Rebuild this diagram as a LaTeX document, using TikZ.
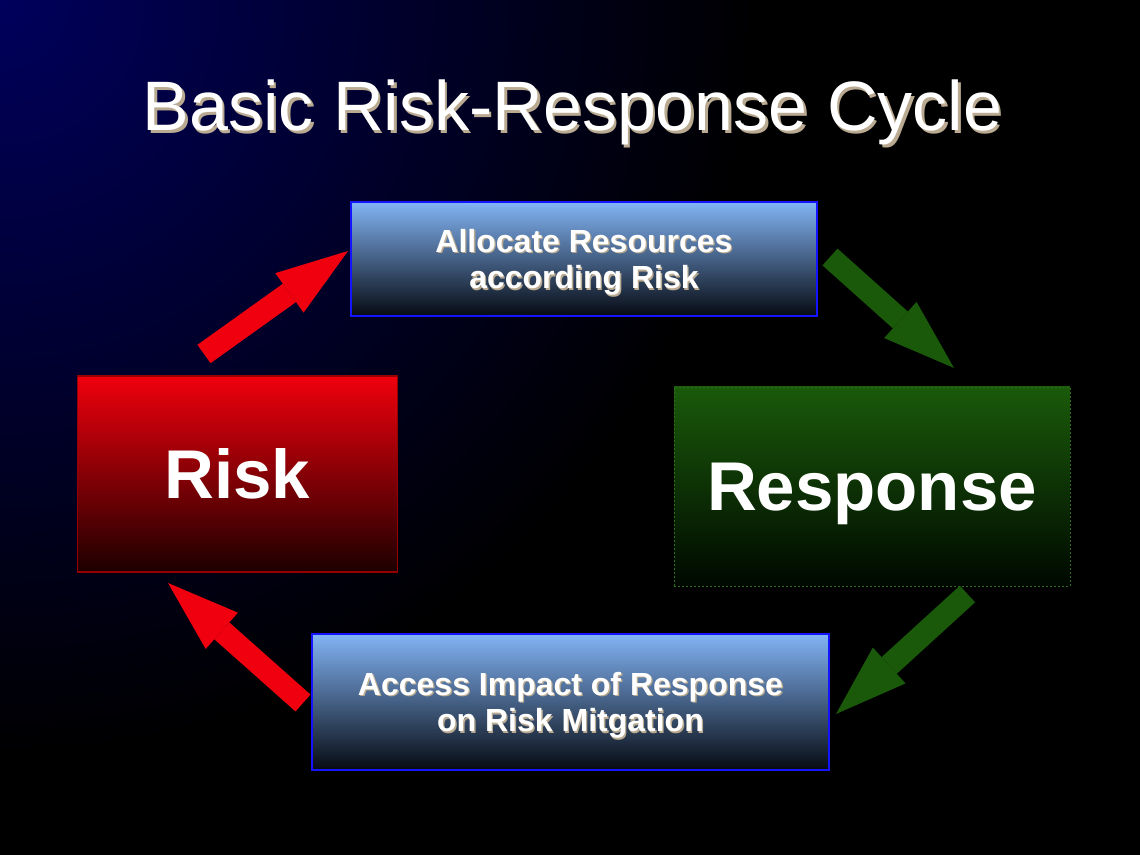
\documentclass[tikz,border=0pt]{standalone}
\usepackage{fontspec}
\setmainfont{Liberation Sans}
\usetikzlibrary{arrows.meta}
\definecolor{bgnavy}{RGB}{0,0,92}
\definecolor{boxblue}{RGB}{130,180,245}
\definecolor{boxmid}{RGB}{72,106,160}
\definecolor{boxdark}{RGB}{6,10,18}
\definecolor{boxedge}{RGB}{20,20,255}
\definecolor{riskred}{RGB}{240,0,12}
\definecolor{riskmid}{RGB}{138,0,4}
\definecolor{riskdark}{RGB}{28,0,0}
\definecolor{riskedge}{RGB}{150,0,0}
\definecolor{respgreen}{RGB}{26,90,10}
\definecolor{respmid}{RGB}{15,60,7}
\definecolor{respdark}{RGB}{0,8,0}
\definecolor{respedge}{RGB}{45,110,30}
\definecolor{arrowred}{RGB}{240,0,15}
\definecolor{arrowgreen}{RGB}{26,88,10}
\definecolor{txtshadow}{RGB}{185,170,145}
\newcommand{\shadowtext}[2][1pt]{\leavevmode\rlap{\kern#1\raisebox{-#1}{\textcolor{txtshadow}{#2}}}#2}
\newcommand{\lastline}[1]{\raisebox{0pt}[\height][0pt]{\shadowtext{#1}}}

\begin{document}
\begin{tikzpicture}[x=0.75pt,y=-0.75pt,
  taskbox/.style={top color=boxblue, middle color=boxmid, bottom color=boxdark, draw=boxedge, line width=1.1pt,
    inner sep=0pt, align=center, text=white, font=\fontsize{24}{27.5}\selectfont\bfseries},
  bigbox/.style={inner sep=0pt, text=white, text depth=0pt, font=\fontsize{51.75}{60}\selectfont\bfseries},
  flowarrow/.style={line width=16.9pt, -{Triangle[length=54pt,width=36.4pt,line width=0pt]}}]
\useasboundingbox (0,0) rectangle (1140,855);
\begin{scope}
\clip (0,0) rectangle (1140,855);
\fill[black] (0,0) rectangle (1140,855);
\shade[inner color=bgnavy, outer color=black] (0,0) circle (760);
\end{scope}

\node[anchor=base, text=white, font=\fontsize{52.5}{60}\selectfont] (title) at (572.5,131) {\shadowtext[2pt]{Basic Risk-Response Cycle}};

\node[taskbox, minimum width=349.5pt, minimum height=85.5pt] (alloc) at (584,259)
  {\shadowtext{Allocate Resources}\\\lastline{according Risk}};
\node[taskbox, minimum width=387.75pt, minimum height=102pt] (impact) at (570.5,702)
  {\shadowtext{Access Impact of Response}\\\lastline{on Risk Mitgation}};
\node[bigbox, top color=riskred, middle color=riskmid, bottom color=riskdark, draw=riskedge, line width=0.8pt,
  minimum width=240pt, minimum height=147pt] (risk) at (237.5,474) {Risk};
\node[bigbox, top color=respgreen, middle color=respmid, bottom color=respdark, draw=respedge, line width=0.6pt,
  dash pattern=on 1.5pt off 1.5pt, minimum width=297pt, minimum height=149.25pt] (resp) at (872,486.5) {Response};

\coordinate (riskOut) at (204,354);
\coordinate (allocIn) at (348,251);
\coordinate (allocOut) at (830,257);
\coordinate (respIn) at (954,368);
\coordinate (respOut) at (967.5,594);
\coordinate (impactIn) at (836,714);
\coordinate (impactOut) at (303,703);
\coordinate (riskIn) at (168,583);

\draw[flowarrow, arrowred] (riskOut) -- (allocIn);
\draw[flowarrow, arrowgreen] (allocOut) -- (respIn);
\draw[flowarrow, arrowgreen] (respOut) -- (impactIn);
\draw[flowarrow, arrowred] (impactOut) -- (riskIn);
\end{tikzpicture}
\end{document}
